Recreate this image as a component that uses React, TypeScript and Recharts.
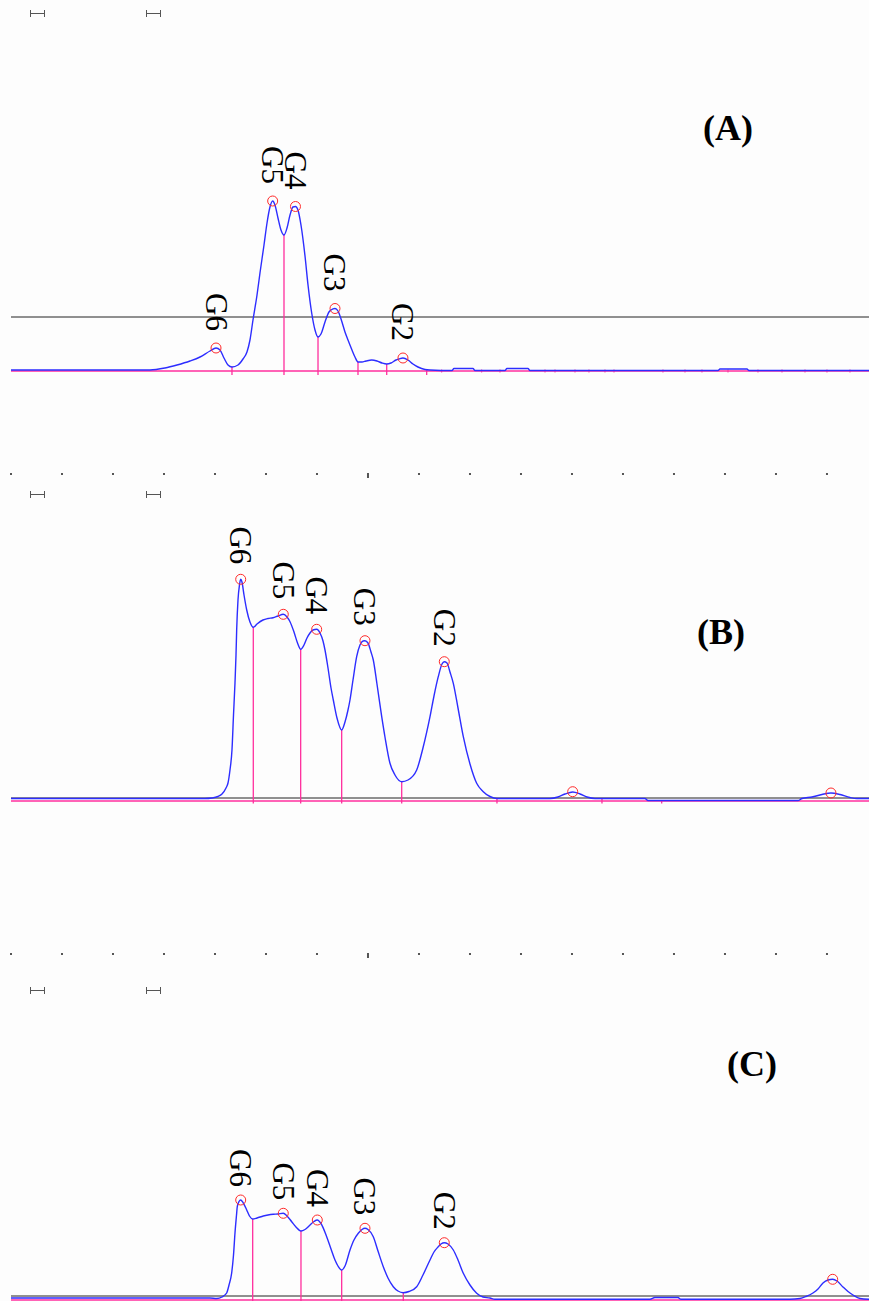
import { ComposedChart, Line, Scatter, XAxis, YAxis, ReferenceLine } from 'recharts';

// retention time (min) tick marks along the time axis
const timeTicks = [0, 1, 2, 3, 4, 5, 6, 7, 8, 9, 10, 11, 12, 13, 14, 15, 16];
const T_MAX = 16.824;

// ---- (A) ----
const aTime = [0, 1.745, 2.725, 3.02, 3.255, 3.51, 3.706, 3.902, 4.02, 4.098, 4.176, 4.255, 4.333, 4.451, 4.549, 4.627, 4.686, 4.745, 4.824, 4.882, 4.961, 5.02, 5.078, 5.131, 5.176, 5.235, 5.294, 5.353, 5.412, 5.471, 5.529, 5.578, 5.627, 5.686, 5.765, 5.824, 5.896, 5.961, 6.02, 6.078, 6.157, 6.235, 6.275, 6.353, 6.412, 6.49, 6.549, 6.608, 6.686, 6.745, 6.804, 6.882, 6.961, 7.073, 7.176, 7.275, 7.367, 7.451, 7.549, 7.608, 7.686, 7.784, 7.882, 7.98, 8.118, 8.216, 8.647, 8.686, 9.059, 9.098, 9.686, 9.725, 10.137, 10.176, 13.863, 13.902, 14.431, 14.471, 16.824];
const aSignal = [1, 1, 1, 3, 6, 10, 14, 20, 23, 21, 13, 6, 4, 6, 12, 19, 31, 51, 76, 98, 126, 148, 164, 170, 166, 153, 141, 136, 143, 156, 164, 164.5, 161, 146, 115, 86, 58, 41, 34, 37, 49, 59, 61, 62.5, 60, 49, 39, 31, 21, 14, 9, 9, 10, 11, 10, 8, 7, 8, 11, 12, 13, 11, 7, 4, 1.5, 1, 0.5, 2.5, 2.5, 0.5, 0.5, 2.5, 2.5, 0.5, 0.5, 2, 2, 0.5, 0.5];
const aPeakNames = ['G6', 'G5', 'G4', 'G3', 'G2'];
const aPeakTime = [4.02, 5.131, 5.578, 6.353, 7.686];
const aPeakHeight = [23, 170, 164.5, 62.5, 13];
const aValleyTime = [4.333, 5.353, 6.02, 6.804, 7.367, 8.151];
const aValleyHeight = [4, 136, 34, 9, 7, 1];
const aMinorMarks = [8.445, 9.229, 9.588, 10.471, 10.667, 11.059, 11.333, 11.647, 11.824, 12.784, 13.216, 13.549, 14.059, 14.647, 15.118, 15.569, 16.0, 16.451];

// ---- (B) ----
const bTime = [0, 3.804, 3.941, 4.059, 4.137, 4.216, 4.255, 4.294, 4.333, 4.363, 4.392, 4.412, 4.425, 4.451, 4.48, 4.504, 4.529, 4.569, 4.622, 4.686, 4.751, 4.824, 4.941, 5.039, 5.137, 5.235, 5.339, 5.412, 5.471, 5.549, 5.618, 5.68, 5.745, 5.804, 5.863, 5.922, 5.994, 6.059, 6.118, 6.157, 6.216, 6.275, 6.32, 6.392, 6.484, 6.549, 6.608, 6.647, 6.706, 6.778, 6.843, 6.902, 6.941, 7.0, 7.059, 7.104, 7.176, 7.269, 7.333, 7.431, 7.529, 7.661, 7.784, 7.955, 8.078, 8.216, 8.294, 8.378, 8.451, 8.496, 8.549, 8.608, 8.673, 8.765, 8.869, 9.0, 9.131, 9.255, 9.392, 9.529, 10.569, 10.725, 10.863, 11.014, 11.157, 11.294, 11.451, 12.431, 12.49, 15.431, 15.51, 15.706, 15.902, 16.078, 16.255, 16.451, 16.588, 16.824];
const bSignal = [2.5, 2.5, 3, 4.5, 7, 13, 18, 31, 51, 86, 118, 146, 171, 201, 216, 221.7, 219, 206, 191, 179, 173.7, 177, 181, 182.5, 183.3, 185, 186.7, 184, 179.3, 169, 158, 151.7, 156, 163, 168, 171, 171.7, 168, 160, 151, 133, 113, 101, 83, 71, 79, 91, 101, 121, 144.3, 156, 160, 160.3, 158, 149, 141, 117, 84.3, 64, 37.7, 26, 19.3, 21, 31, 53, 84.3, 105, 124.3, 137, 139.3, 138, 129, 117.7, 93, 64.3, 37, 17.7, 9.5, 4.5, 2.5, 2.5, 4, 7, 9, 7, 4, 2.5, 2.5, 0.5, 0.5, 2.5, 4, 6.5, 8, 6.5, 3.5, 2.5, 2.5];
const bPeakNames = ['G6', 'G5', 'G4', 'G3', 'G2', '', ''];
const bPeakTime = [4.504, 5.339, 5.994, 6.941, 8.496, 11.014, 16.078];
const bPeakHeight = [221.7, 186.7, 171.7, 160.3, 139.3, 9.3, 8];
const bValleyTime = [4.751, 5.68, 6.484, 7.661, 9.529, 11.588, 12.759];
const bValleyHeight = [173.7, 151.7, 71, 19.3, 2.5, 2.5, 1];

// ---- (C) ----
const cTime = [0, 3.902, 4.033, 4.137, 4.229, 4.275, 4.327, 4.363, 4.392, 4.422, 4.437, 4.471, 4.504, 4.549, 4.622, 4.676, 4.739, 4.824, 4.947, 5.039, 5.143, 5.235, 5.339, 5.412, 5.504, 5.588, 5.686, 5.765, 5.863, 5.941, 6.006, 6.078, 6.19, 6.275, 6.353, 6.412, 6.484, 6.549, 6.647, 6.725, 6.81, 6.882, 6.941, 7.0, 7.104, 7.196, 7.3, 7.392, 7.496, 7.588, 7.692, 7.804, 7.955, 8.078, 8.216, 8.294, 8.378, 8.431, 8.496, 8.569, 8.673, 8.765, 8.869, 9.0, 9.131, 9.255, 9.392, 9.49, 12.529, 12.627, 13.078, 13.137, 15.275, 15.471, 15.588, 15.725, 15.824, 15.922, 16.02, 16.112, 16.196, 16.314, 16.412, 16.51, 16.647, 16.824];
const cSignal = [2, 2, 1.5, 3, 7, 15, 27, 45, 67, 85, 93.3, 98.5, 100, 97.5, 90, 84, 81, 82, 84, 85, 85.7, 86, 86.7, 84, 78.3, 73, 69, 70.5, 75, 78.5, 80, 76.5, 63.3, 51, 40, 34, 30, 34, 50, 60, 66.7, 70.5, 71.7, 70.5, 63.3, 49, 33.3, 22, 13.3, 9, 7.3, 8.5, 13.3, 25, 40, 48, 53.3, 56, 57.3, 56, 50, 40, 26.7, 15, 6.7, 3, 2, 0.7, 0.7, 2.5, 2.5, 0.7, 0.7, 1.5, 3.5, 7, 11, 17, 20, 20.7, 19, 13, 8.5, 5, 1.5, 0.7];
const cPeakNames = ['G6', 'G5', 'G4', 'G3', 'G2', ''];
const cPeakTime = [4.504, 5.339, 6.006, 6.941, 8.496, 16.112];
const cPeakHeight = [100, 86.7, 80, 71.7, 57.3, 20.7];
const cValleyTime = [4.739, 5.686, 6.484, 7.692];
const cValleyHeight = [81, 69, 30, 7.3];

const BLUE = '#2d2dff';
const PINK = '#ff2f9e';
const SERIF = '"Liberation Serif", "Times New Roman", serif';

type PanelProps = {
  tag: string;
  tagLeft: number;
  tagTop: number;
  top: number;
  height: number;
  axisHeight: number;
  domain: [number, number];
  threshold: number;
  dropBottom: number;
  labelGap: number;
  showTimeAxis: boolean;
  time: number[];
  signal: number[];
  peakNames: string[];
  peakTime: number[];
  peakHeight: number[];
  valleyTime: number[];
  valleyHeight: number[];
  minorMarks?: number[];
};

function TimeTick(props: any) {
  const { x, y, index } = props;
  return <rect x={x - 1} y={y - 1} width={2} height={index === 7 ? 5 : 2} fill="#555" />;
}

function PeakMark(props: any, gap: number) {
  const { cx, cy, payload } = props;
  return (
    <g>
      <circle cx={cx} cy={cy} r={5} fill="none" stroke="#ff2a2a" strokeWidth={1} />
      {payload.name ? (
        <text
          x={cx}
          y={cy - gap}
          transform={`rotate(90 ${cx} ${cy - gap})`}
          textAnchor="end"
          dominantBaseline="central"
          fontFamily={SERIF}
          fontSize={31}
          fill="#000"
        >
          {payload.name}
        </text>
      ) : null}
    </g>
  );
}

function Panel(p: PanelProps) {
  const trace = p.time.map((t, i) => ({ t, signal: p.signal[i] }));
  const peaks = p.peakTime.map((t, i) => ({ t, signal: p.peakHeight[i], name: p.peakNames[i] }));
  return (
    <div style={{ position: 'absolute', left: 0, top: p.top, width: 869, height: p.height }}>
      <ComposedChart
        width={869}
        height={p.height}
        margin={{ top: 0, right: 0, bottom: 0, left: 11 }}
      >
        <XAxis
          dataKey="t"
          type="number"
          domain={[0, T_MAX]}
          ticks={timeTicks}
          allowDataOverflow
          hide={!p.showTimeAxis}
          height={p.axisHeight}
          axisLine={false}
          tickLine={false}
          tickSize={0}
          tickMargin={0}
          tick={<TimeTick />}
        />
        <YAxis type="number" domain={p.domain} hide allowDataOverflow />
        <ReferenceLine y={0} stroke={PINK} strokeWidth={1.3} />
        <ReferenceLine y={p.threshold} stroke="#222" strokeWidth={1} />
        {p.valleyTime.map((t, i) => (
          <ReferenceLine
            key={'v' + i}
            segment={[{ x: t, y: p.valleyHeight[i] }, { x: t, y: p.dropBottom }]}
            stroke={PINK}
            strokeWidth={1.3}
            ifOverflow="visible"
          />
        ))}
        {(p.minorMarks || []).map((t, i) => (
          <ReferenceLine
            key={'m' + i}
            segment={[{ x: t, y: 1.5 }, { x: t, y: -1.5 }]}
            stroke={PINK}
            strokeWidth={1}
            ifOverflow="visible"
          />
        ))}
        <Line
          data={trace}
          dataKey="signal"
          type="monotone"
          stroke={BLUE}
          strokeWidth={1.4}
          dot={false}
          isAnimationActive={false}
        />
        <Scatter
          data={peaks}
          dataKey="signal"
          isAnimationActive={false}
          shape={(s: any) => PeakMark(s, p.labelGap)}
        />
      </ComposedChart>
      <div
        style={{
          position: 'absolute',
          left: p.tagLeft,
          top: p.tagTop - p.top,
          fontFamily: SERIF,
          fontWeight: 'bold',
          fontSize: 36,
          lineHeight: '36px',
          color: '#000',
        }}
      >
        {p.tag}
      </div>
    </div>
  );
}

function RangeMarks({ y }: { y: number }) {
  return (
    <svg style={{ position: 'absolute', left: 0, top: y - 4 }} width={180} height={8}>
      {[30, 146].map((x) => (
        <g key={x} stroke="#555" strokeWidth={1}>
          <line x1={x} y1={4.5} x2={x + 15} y2={4.5} />
          <line x1={x + 0.5} y1={1} x2={x + 0.5} y2={8} />
          <line x1={x + 14.5} y1={1} x2={x + 14.5} y2={8} />
        </g>
      ))}
    </svg>
  );
}

export default function App() {
  return (
    <div
      style={{
        position: 'absolute',
        left: 0,
        top: 0,
        width: 869,
        height: 1301,
        background: '#fdfdfd',
        overflow: 'hidden',
      }}
    >
      <Panel
        tag="(A)"
        tagLeft={703}
        tagTop={110}
        top={0}
        height={480}
        axisHeight={6}
        domain={[-103, 371]}
        threshold={54}
        dropBottom={-4}
        labelGap={17}
        showTimeAxis
        time={aTime}
        signal={aSignal}
        peakNames={aPeakNames}
        peakTime={aPeakTime}
        peakHeight={aPeakHeight}
        valleyTime={aValleyTime}
        valleyHeight={aValleyHeight}
        minorMarks={aMinorMarks}
      />
      <Panel
        tag="(B)"
        tagLeft={697}
        tagTop={614}
        top={480}
        height={480}
        axisHeight={6}
        domain={[-153, 321]}
        threshold={3}
        dropBottom={-2.5}
        labelGap={15}
        showTimeAxis
        time={bTime}
        signal={bSignal}
        peakNames={bPeakNames}
        peakTime={bPeakTime}
        peakHeight={bPeakHeight}
        valleyTime={bValleyTime}
        valleyHeight={bValleyHeight}
      />
      <Panel
        tag="(C)"
        tagLeft={727}
        tagTop={1046}
        top={960}
        height={341}
        axisHeight={0}
        domain={[-1, 340]}
        threshold={4}
        dropBottom={-1}
        labelGap={13}
        showTimeAxis={false}
        time={cTime}
        signal={cSignal}
        peakNames={cPeakNames}
        peakTime={cPeakTime}
        peakHeight={cPeakHeight}
        valleyTime={cValleyTime}
        valleyHeight={cValleyHeight}
      />
      <RangeMarks y={13} />
      <RangeMarks y={494} />
      <RangeMarks y={990} />
    </div>
  );
}
